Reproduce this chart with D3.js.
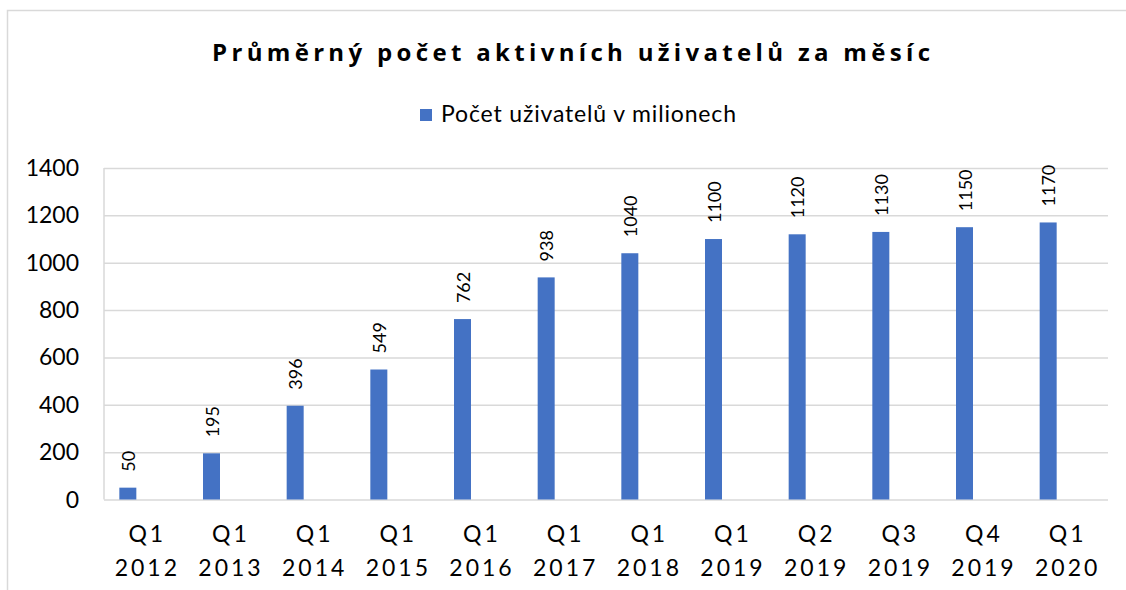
<!DOCTYPE html>
<html>
<head>
    <meta charset="utf-8">
    <style>
        body { margin: 0; background: #fff; }
        text { font-family: Lato, "Open Sans", sans-serif; fill: #000; }
        .grid line { stroke: #d9d9d9; stroke-width: 1.5; }
        .grid .domain { display: none; }
        .ylab text { font-size: 23px; }
        .xlab text { font-size: 23px; letter-spacing: 3px; }
        .lbl { font-size: 18px; }
        .title { font-family: "Open Sans", Lato, sans-serif; font-size: 24px; font-weight: bold; }
        .legend text { font-size: 23px; }
    </style>
    <script src="https://d3js.org/d3.v7.min.js"></script>
</head>
<body>
    <svg width="1126" height="590"></svg>
    <script>
        let categories = ["Q1 2012", "Q1 2013", "Q1 2014", "Q1 2015", "Q1 2016", "Q1 2017",
                          "Q1 2018", "Q1 2019", "Q2 2019", "Q3 2019", "Q4 2019", "Q1 2020"];
        let users = [50, 195, 396, 549, 762, 938, 1040, 1100, 1120, 1130, 1150, 1170];
        let yTicks = [0, 200, 400, 600, 800, 1000, 1200, 1400];
        let seriesName = "Počet uživatelů v milionech";
        let chartTitle = "Průměrný počet aktivních uživatelů za měsíc";

        let svg = d3.select("svg");
        let plotL = 104, plotR = 1108, plotT = 168, plotB = 499.5;
        let barW = 17;

        // outer chart border (right and bottom edges fall outside the window)
        svg.append("path")
            .attr("d", "M7.5,590 L7.5,10.5 L1126,10.5")
            .attr("fill", "none")
            .attr("stroke", "#d9d9d9")
            .attr("stroke-width", 1.5);

        let x = d3.scaleBand().domain(categories).range([plotL, plotR]).padding(0);
        let y = d3.scaleLinear().domain([0, 1400]).range([plotB, plotT]);

        // gridlines
        svg.append("g")
            .attr("class", "grid")
            .attr("transform", "translate(" + plotL + ",0)")
            .call(d3.axisLeft(y).tickValues(yTicks).tickSize(-(plotR - plotL)).tickFormat(""));

        // y axis line
        svg.append("line")
            .attr("x1", plotL).attr("x2", plotL)
            .attr("y1", y(1400)).attr("y2", y(0))
            .attr("stroke", "#d9d9d9").attr("stroke-width", 1.5);

        // y tick labels
        let ylab = svg.append("g").attr("class", "ylab");
        ylab.selectAll("text")
            .data(yTicks)
            .join("text")
            .attr("x", 79)
            .attr("y", d => y(d) + 8)
            .attr("text-anchor", "end")
            .text(d => d);

        // bars
        svg.append("g")
            .selectAll("rect")
            .data(users)
            .join("rect")
            .attr("x", (d, i) => x(categories[i]) + x.bandwidth() / 2 - 18 - barW / 2)
            .attr("y", d => y(d))
            .attr("width", barW)
            .attr("height", d => y(0) - y(d))
            .attr("fill", "#4472c4");

        // data labels, rotated
        svg.append("g")
            .selectAll("text")
            .data(users)
            .join("text")
            .attr("class", "lbl")
            .attr("transform", (d, i) => {
                let cx = x(categories[i]) + x.bandwidth() / 2 - 18 + 7;
                return "translate(" + cx + "," + (y(d) - 16) + ") rotate(-90)";
            })
            .text(d => d);

        // x labels on two lines
        let xlab = svg.append("g").attr("class", "xlab");
        categories.forEach(c => {
            let parts = c.split(" ");
            let cx = x(c) + x.bandwidth() / 2 + 1.5;
            let t = xlab.append("text").attr("text-anchor", "middle");
            t.append("tspan").attr("x", cx).attr("y", 541.5).text(parts[0]);
            t.append("tspan").attr("x", cx).attr("y", 575.5).text(parts[1]);
        });

        // title, spaced out to the width it has in the picture
        let title = svg.append("text")
            .attr("class", "title")
            .attr("x", 571)
            .attr("y", 61)
            .attr("text-anchor", "middle")
            .text(chartTitle);
        let tw = title.node().getComputedTextLength();
        let sp = (718 - tw) / (chartTitle.length - 1);
        title.style("letter-spacing", sp + "px").attr("x", 571 + sp / 2);

        // legend
        let legend = svg.append("g").attr("class", "legend");
        legend.append("rect")
            .attr("x", 420).attr("y", 109)
            .attr("width", 12).attr("height", 12)
            .attr("fill", "#4472c4");
        let lt = legend.append("text")
            .attr("x", 441)
            .attr("y", 122)
            .text(seriesName);
        let lw = lt.node().getComputedTextLength();
        lt.style("letter-spacing", ((295 - lw) / (seriesName.length - 1)) + "px");
    </script>
</body>
</html>
